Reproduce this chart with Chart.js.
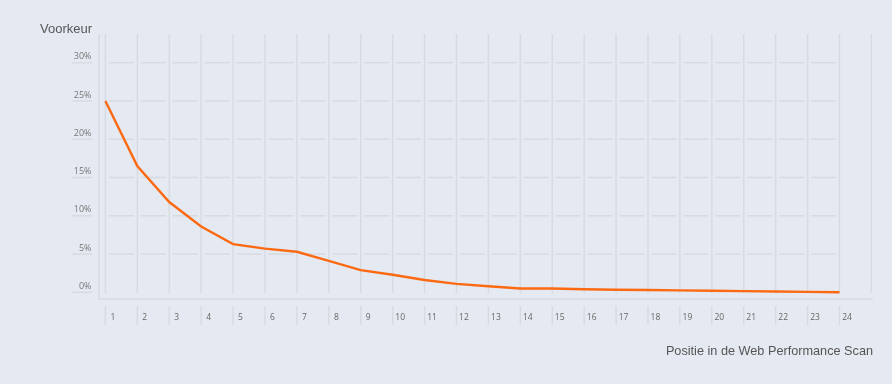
<!DOCTYPE html>
<html>
<head>
<meta charset="utf-8">
<script src="https://cdn.jsdelivr.net/npm/chart.js@4.4.1/dist/chart.umd.min.js"></script>
<style>
html,body{margin:0;padding:0;background:#e5eaf2;}
canvas{display:block;}
</style>
</head>
<body>
<canvas id="c" width="892" height="384"></canvas>
<script>
// ---- data ----
const positions = [1,2,3,4,5,6,7,8,9,10,11,12,13,14,15,16,17,18,19,20,21,22,23,24];
const voorkeur  = [25.0,16.5,11.8,8.6,6.3,5.7,5.3,4.1,2.9,2.3,1.6,1.1,0.8,0.5,0.5,0.4,0.33,0.3,0.25,0.2,0.15,0.1,0.05,0.0];
const xGridValues = [1,2,3,4,5,6,7,8,9,10,11,12,13,14,15,16,17,18,19,20,21,22,23,24,25];
const yTicks = [0,5,10,15,20,25,30];
const yTitle = 'Voorkeur';
const xTitle = 'Positie in de Web Performance Scan';

const GRID = '#d7dbe1';

const gridPlugin = {
  id: 'customGrid',
  beforeDatasetsDraw(chart) {
    const {ctx, chartArea: a, scales: {x, y}} = chart;
    const line = (x1, y1, x2, y2) => { ctx.beginPath(); ctx.moveTo(x1, y1); ctx.lineTo(x2, y2); ctx.stroke(); };
    ctx.save();
    ctx.strokeStyle = GRID;
    ctx.lineWidth = 1.5;
    const y0 = y.getPixelForValue(0);
    const xs = xGridValues.map(v => x.getPixelForValue(v));
    // vertical grid lines
    xs.forEach(px => line(px, a.top, px, y0 + 1));
    // horizontal segments between vertical lines (within data range)
    yTicks.filter(v => v > 0).forEach(v => {
      const py = y.getPixelForValue(v);
      for (let i = 0; i < positions.length - 1; i++) line(xs[i] + 3.5, py, xs[i + 1] - 3.5, py);
    });
    // underlines below y labels
    yTicks.forEach(v => {
      const py = y.getPixelForValue(v);
      line(a.left - 27, py, a.left - 7, py);
    });
    // axis borders
    line(a.left, a.top, a.left, a.bottom);
    line(a.left, a.bottom, a.right, a.bottom);
    // tick marks below the axis
    positions.forEach(v => {
      const px = x.getPixelForValue(v);
      line(px, a.bottom + 7, px, a.bottom + 26);
    });
    ctx.restore();
  },
  afterDraw(chart) {
    const {ctx} = chart;
    ctx.save();
    ctx.fillStyle = '#555';
    ctx.font = '13px "Liberation Sans", Arial, sans-serif';
    ctx.textAlign = 'left';
    ctx.textBaseline = 'middle';
    ctx.fillText(yTitle, 40, 29.5);
    ctx.restore();
  }
};

new Chart(document.getElementById('c'), {
  type: 'line',
  data: {
    labels: positions,
    datasets: [{
      label: yTitle,
      data: voorkeur,
      borderColor: '#fb6a12',
      borderWidth: 2.4,
      pointRadius: 0,
      tension: 0,
      fill: false
    }]
  },
  options: {
    responsive: false,
    animation: false,
    layout: {padding: {top: 34, right: 19, left: 0, bottom: 0}},
    plugins: {legend: {display: false}, tooltip: {enabled: false}},
    scales: {
      x: {
        type: 'linear',
        min: 0.8,
        max: 25.05,
        grid: {display: false, drawTicks: false},
        border: {display: false},
        afterBuildTicks: s => { s.ticks = xGridValues.map(v => ({value: v})); },
        afterFit: s => { s.height = 85; },
        ticks: {
          autoSkip: false, maxRotation: 0, minRotation: 0,
          padding: 13, labelOffset: 7.5,
          font: {family: '"Open Sans", sans-serif', size: 8.5},
          color: '#666',
          callback: v => positions.includes(v) ? String(v) : ''
        },
        title: {
          display: true, text: xTitle, align: 'end',
          padding: {top: 0, bottom: 24.5},
          color: '#555',
          font: {family: '"Liberation Sans", Arial, sans-serif', size: 12.7}
        }
      },
      y: {
        min: -0.875,
        max: 33.75,
        grid: {display: false, drawTicks: false},
        border: {display: false},
        afterBuildTicks: s => { s.ticks = yTicks.map(v => ({value: v})); },
        afterFit: s => { s.width = 99; },
        ticks: {
          padding: 7.5, labelOffset: -6,
          font: {family: '"Open Sans", sans-serif', size: 9},
          color: '#777',
          callback: v => v + '%'
        }
      }
    }
  },
  plugins: [gridPlugin]
});
</script>
</body>
</html>
